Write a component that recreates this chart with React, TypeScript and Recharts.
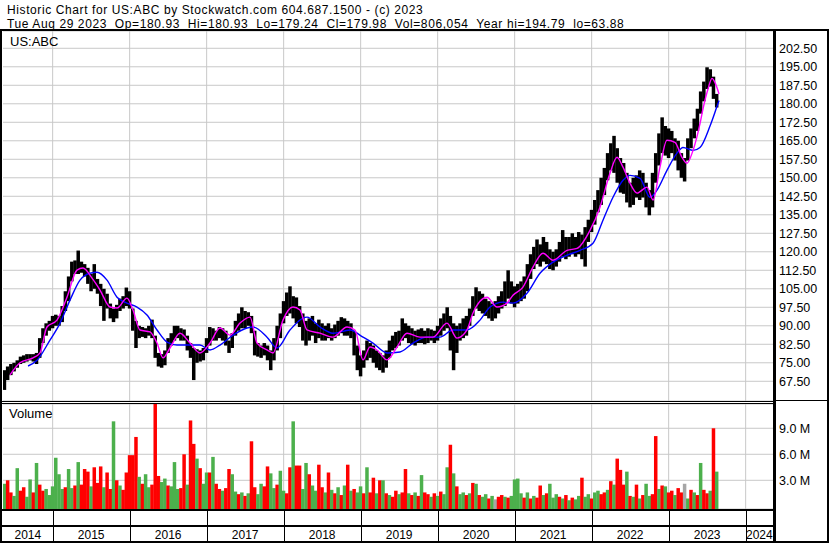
import React from "react";
import {
  ComposedChart,
  Bar,
  Line,
  XAxis,
  YAxis,
  CartesianGrid
} from "recharts";

const FONT = "'Liberation Sans', Arial, sans-serif";

// time axis in decimal years
const X_START = 2014.355;
const X_END = 2024.355;
const BIN_START = 2014.375;
const BIN_STEP = 1 / 24; // half-month bins

const YEAR_LINES = [2015, 2016, 2017, 2018, 2019, 2020, 2021, 2022, 2023, 2024];
const PRICE_TICKS = [67.5, 75, 82.5, 90, 97.5, 105, 112.5, 120, 127.5, 135, 142.5, 150, 157.5, 165, 172.5, 180, 187.5, 195, 202.5];
const VOLUME_TICKS = [3, 6, 9];

// half-month price ranges
const PRICE_LOW = [
  64, 68, 70, 71.5, 73, 74.5, 75, 75.5, 76, 75.5,
  74.5, 77, 83, 86, 88, 89, 90, 90, 91.5, 96,
  100, 108, 111, 111, 111.5, 110, 107, 104, 105, 103,
  98, 92, 97, 93, 91.5, 93, 96, 97, 98, 97,
  88, 81, 85, 85.5, 85, 86, 85, 77, 73.5, 73,
  74, 79, 82, 84, 85, 84, 84, 80, 77, 68,
  75, 75.5, 76, 79, 82, 84, 84, 85, 84, 82,
  79, 81, 86, 88, 89, 89, 90, 87, 78, 77.5,
  77, 78, 76, 72, 76, 80, 85, 91, 94, 95,
  93, 91, 89.5, 84, 82, 84, 86, 83, 85, 84,
  84, 85, 84, 85, 86, 87, 86, 86, 85, 78,
  72, 69.5, 73, 76, 77, 75, 73, 72, 71, 73,
  77, 80, 81, 82, 84, 85, 83, 82.5, 82, 83,
  83, 82.5, 83, 84, 83, 84, 86, 88, 89, 80,
  72, 79, 84, 85, 86, 90, 94, 97, 96, 95,
  94, 93, 92, 93, 95, 97, 98, 101, 99, 97.5,
  99, 100, 101, 104, 109, 113, 115, 114, 116, 115,
  113, 112.5, 114, 116, 118, 117, 118, 119, 118, 119,
  117, 114, 124, 128, 131, 136, 139, 143, 149, 153,
  152, 148, 144, 143.5, 140, 138, 139, 142, 141, 142,
  138, 134.8, 138, 148, 155, 160, 159, 158, 160, 157,
  153, 150, 148.5, 157, 162, 166, 169, 176, 181, 186, 187, 182, 178.5
];

const PRICE_HIGH = [
  72, 73.5, 74.5, 75, 76, 77.5, 78, 78.5, 78.5, 78.5,
  79, 85, 89, 91, 92, 94, 94.5, 94, 98, 104,
  110, 116, 116.5, 120.5, 116, 115, 113.5, 111, 115, 109,
  107, 105, 103, 99, 97, 98.5, 101, 102, 105.5, 104,
  97, 92, 90, 89.5, 89, 90, 92.5, 86, 79, 78.5,
  80, 85, 87, 90, 90, 89, 88.5, 86, 83, 81,
  80.5, 80, 81, 85, 89.5, 89, 88, 89.5, 89, 88,
  84, 87, 92, 95, 97.5, 96, 95.5, 94, 88, 83,
  82, 83, 82, 80, 85, 90, 95, 100, 103.5, 106,
  102, 101.5, 98, 95, 92, 93, 94, 91, 92.5, 91,
  90, 91, 89, 90.5, 92, 93.5, 93, 92, 91, 88,
  82, 78, 80, 84, 83, 82, 80, 79, 78, 80,
  84, 86, 87.5, 88, 93, 91, 90, 89, 88, 88.5,
  89, 88, 89, 88.5, 88, 90, 93, 95, 97.5, 94,
  91, 90, 91, 93, 94, 97, 102, 105.6, 104, 103,
  101, 100, 99, 100, 102, 104, 108, 112.5, 108, 106,
  107, 108, 110, 115, 119, 122, 125, 123, 126, 124,
  121, 120, 121, 124, 128.8, 126, 126, 127.5, 126, 128,
  127, 130, 133, 137, 141, 145, 150, 154, 160, 164,
  167, 162, 158, 156, 152, 148, 150, 151, 153, 152,
  148, 145, 152, 160, 168, 174.5, 171, 170, 169, 166,
  165, 160, 158, 166, 170, 174, 178, 185, 189, 194.8, 194, 191, 184
];

// volume in millions per half-month bin
const VOLUME = [
  2.6, 3.0, 1.6, 1.2, 4.4, 1.8, 2.2, 1.1, 3.1, 1.6,
  5.0, 2.5, 1.8, 2.0, 1.3, 2.3, 5.6, 3.7, 2.0, 2.2,
  4.3, 2.1, 2.4, 5.1, 2.5, 4.3, 4.0, 2.3, 4.5, 2.7,
  4.6, 2.2, 3.9, 2.0, 9.8, 3.0, 2.4, 1.9, 3.9, 5.9,
  5.9, 8.0, 3.4, 2.6, 3.7, 2.2, 2.5, 11.8, 3.5, 2.8,
  3.2, 2.4, 2.3, 5.1, 2.0, 2.1, 6.0, 2.5, 9.9, 7.2,
  5.5, 4.4, 2.6, 3.9, 3.9, 5.7, 2.6, 2.0, 1.8, 2.1,
  4.3, 3.7, 1.7, 1.4, 1.6, 1.2, 1.5, 7.5, 2.2, 1.4,
  2.6, 2.3, 4.6, 3.8, 2.1, 2.5, 4.1, 1.8, 1.5, 4.5,
  9.8, 4.7, 4.7, 2.0, 5.0, 3.7, 2.4, 1.8, 4.8, 2.2,
  1.6, 3.9, 1.9, 1.5, 2.2, 1.3, 2.4, 4.8, 1.8, 2.0,
  1.6, 2.3, 1.5, 4.5, 1.6, 3.3, 1.5, 3.0, 3.0, 1.5,
  1.3, 1.1, 1.8, 1.4, 1.6, 4.3, 1.5, 1.3, 1.6, 1.2,
  3.6, 1.6, 1.4, 1.1, 1.5, 1.2, 1.7, 1.4, 4.5, 7.1,
  3.8, 2.3, 1.4, 1.6, 1.3, 1.5, 2.7, 2.6, 1.3, 1.1,
  1.4, 0.9, 1.2, 0.8, 1.1, 1.3, 1.1, 1.0, 1.2, 3.1,
  3.2, 1.5, 1.0, 1.6, 0.9, 1.2, 1.0, 2.4, 1.3, 1.5,
  2.6, 1.0, 1.4, 1.1, 0.9, 1.3, 0.7, 1.0, 0.8, 1.2,
  3.3, 1.1, 1.4, 0.9, 1.6, 1.8, 1.4, 1.6, 1.9, 2.9,
  2.5, 5.5, 4.2, 2.5, 4.0, 1.2, 1.1, 2.5, 0.9, 1.3,
  2.6, 1.2, 1.4, 8.1, 2.0, 2.4, 2.3, 1.6, 1.8, 1.3,
  2.1, 1.6, 2.6, 0.9, 1.9, 1.6, 1.3, 5.0, 1.9, 1.5, 1.8, 9.0, 4.0
];

// g = up, r = down, n = unchanged
const VOLUME_SIDE = (
  "grrggrrggr" + "grrggggggr" + "ggrgrrrgrr" + "rgrrgrgrrr" + "rrgrggrrrg" +
  "grgggrrgrr" + "grggrgrrgr" + "rggrgrgrrg" + "grrggrggrr" + "grrggrggrr" +
  "grgrgrgrgr" + "ggrgrrgrgr" + "grrgrrgrgr" + "grrgrgrggr" + "grggrgrgrg" +
  "grgnrrgrgg" + "ggrgrgrrgr" + "gggrgrgrgg" + "rggrggrrgr" + "grrrgrgrgr" +
  "ggrrgrgrrg" + "rrngrgrgrrgrg"
).split("");

// moving averages: [year, price]
const MA_SHORT: [number, number][] = [
  [2014.446, 70.1], [2014.576, 75], [2014.745, 77], [2014.836, 79], [2014.926, 89.5],
  [2015.056, 92.3], [2015.186, 101.6], [2015.316, 112.6], [2015.394, 113.4], [2015.511, 109.3],
  [2015.615, 104.5], [2015.745, 97.6], [2015.836, 97.2], [2015.965, 101.2], [2016.043, 96.4],
  [2016.134, 88.3], [2016.264, 87.5], [2016.355, 83], [2016.433, 77], [2016.524, 81],
  [2016.654, 87], [2016.784, 83], [2016.913, 79], [2017.043, 83], [2017.173, 89.1],
  [2017.303, 86.2], [2017.433, 91.1], [2017.563, 93.5], [2017.654, 83], [2017.784, 80.2],
  [2017.862, 79], [2017.991, 92.3], [2018.121, 97.6], [2018.212, 96.4], [2018.303, 88.3],
  [2018.472, 87], [2018.641, 85.4], [2018.823, 89.5], [2018.926, 88.3], [2019.03, 76.2],
  [2019.121, 81.4], [2019.212, 80.2], [2019.342, 76.2], [2019.472, 81.4], [2019.602, 87],
  [2019.771, 85.4], [2019.939, 85.4], [2020.121, 91.1], [2020.251, 85], [2020.381, 88.3],
  [2020.459, 95.2], [2020.641, 101.6], [2020.771, 97.6], [2020.9, 99.2], [2020.978, 102.4],
  [2021.108, 105.7], [2021.238, 113.8], [2021.368, 119.4], [2021.498, 116.6], [2021.68, 120.6],
  [2021.81, 121.4], [2021.978, 128.7], [2022.108, 138.1], [2022.238, 151.8], [2022.329, 158.3],
  [2022.407, 154.3], [2022.498, 147.8], [2022.589, 143.8], [2022.719, 146.2], [2022.797, 141],
  [2022.887, 154.3], [2022.978, 165.2], [2023.082, 164.4], [2023.173, 158.3], [2023.238, 155.9],
  [2023.316, 161.1], [2023.407, 172], [2023.446, 178], [2023.511, 186], [2023.563, 190.3],
  [2023.602, 188.6], [2023.654, 184]
];

const MA_LONG: [number, number][] = [
  [2014.68, 73.7], [2014.797, 76], [2014.965, 84.2], [2015.095, 91], [2015.225, 100.4],
  [2015.355, 108.5], [2015.485, 111.3], [2015.576, 111.7], [2015.706, 108.5], [2015.836, 101.6],
  [2015.965, 99.2], [2016.095, 97.6], [2016.225, 94.4], [2016.355, 88.3], [2016.485, 83.4],
  [2016.615, 82.2], [2016.745, 82.2], [2016.913, 82.2], [2017.043, 80.2], [2017.173, 82.2],
  [2017.342, 86.2], [2017.524, 89.1], [2017.602, 89.5], [2017.784, 85.4], [2017.913, 81],
  [2018.082, 88.3], [2018.303, 93.5], [2018.472, 89.5], [2018.641, 87], [2018.862, 88.3],
  [2019.03, 85.4], [2019.16, 83], [2019.342, 79], [2019.511, 79.4], [2019.68, 83],
  [2019.862, 85.4], [2020.03, 85.4], [2020.199, 88.3], [2020.381, 88.3], [2020.55, 92.3],
  [2020.68, 97.6], [2020.849, 99.6], [2020.978, 99.2], [2021.16, 103.2], [2021.329, 111.3],
  [2021.498, 115.8], [2021.68, 118.6], [2021.849, 120.6], [2022.017, 123.5], [2022.147, 132.8],
  [2022.277, 142.1], [2022.407, 149], [2022.498, 151], [2022.628, 149.8], [2022.758, 142.1],
  [2022.849, 145], [2022.978, 153], [2023.108, 160], [2023.186, 162.3], [2023.316, 161.1],
  [2023.407, 162.3], [2023.537, 171], [2023.628, 179], [2023.654, 181.3]
];

const PRICE_DOMAIN: [number, number] = [59.51, 209.51];
const VOLUME_DOMAIN: [number, number] = [-0.31, 11.8];

const SIDE_COLOR: Record<string, string> = { g: "#4cb04c", r: "#ff0000", n: "#a6a6a6" };
const BAR_W = 3.5;

const priceRows = PRICE_LOW.map((low, i) => ({
  t: BIN_START + i * BIN_STEP,
  low,
  high: PRICE_HIGH[i]
}));
const volumeRows = VOLUME.map((v, i) => ({
  t: BIN_START + i * BIN_STEP,
  v,
  side: VOLUME_SIDE[i]
}));
const shortRows = MA_SHORT.map(([t, v]) => ({ t, v }));
const longRows = MA_LONG.map(([t, v]) => ({ t, v }));

// year band: dividers at year starts, labels centred in each year slot
const yearTicks = [
  (X_START + 2015) / 2,
  ...YEAR_LINES.flatMap((y) => (y < 2024 ? [y, y + 0.5] : [y])),
  (2024 + X_END) / 2
];

const yearGrid = ({ offset }: any) =>
  YEAR_LINES.map((y) => offset.left + ((y - X_START) / (X_END - X_START)) * offset.width);

const YearTick = (props: any) => {
  const { x, y, payload } = props;
  const v = payload.value;
  if (Number.isInteger(v)) {
    const px = Math.round(x) + 0.5;
    return <line x1={px} x2={px} y1={y} y2={y + 32} stroke="#000" strokeWidth={1} />;
  }
  return (
    <text x={x} y={y + 30} textAnchor="middle" fontSize={12} fontFamily={FONT} fill="#000">
      {Math.floor(v)}
    </text>
  );
};

// bars keep a fixed width around their centre so neighbours touch
const PriceBar = (p: any) => {
  const top = Math.min(p.y, p.y + p.height);
  const h = Math.max(Math.abs(p.height), 1);
  return <rect x={p.x + p.width / 2 - BAR_W / 2} y={top} width={BAR_W} height={h} fill="#000" />;
};

const VolumeBar = (p: any) => {
  const top = Math.min(p.y, p.y + p.height);
  const h = Math.abs(p.height);
  return (
    <rect
      x={p.x + p.width / 2 - BAR_W / 2}
      y={top}
      width={BAR_W}
      height={h}
      fill={SIDE_COLOR[p.payload.side]}
    />
  );
};

const axisTick = { fill: "#000", fontSize: 12.5, fontFamily: FONT };
const SP = "\u00a0\u00a0";

const App: React.FC = () => {
  return (
    <div
      style={{
        position: "absolute",
        left: 0,
        top: 0,
        width: 830,
        height: 543,
        background: "#fff",
        overflow: "hidden"
      }}
    >
      <div style={{ position: "absolute", left: 3, top: 31 }}>
        <ComposedChart width={824} height={370} data={priceRows} margin={{ top: 0, right: 0, bottom: 0, left: 0 }}>
          <CartesianGrid stroke="#c8c8c8" verticalCoordinatesGenerator={yearGrid} />
          <XAxis type="number" dataKey="t" domain={[X_START, X_END]} allowDataOverflow hide />
          <XAxis xAxisId="ma" type="number" dataKey="t" domain={[X_START, X_END]} allowDataOverflow hide />
          <YAxis
            orientation="right"
            type="number"
            domain={PRICE_DOMAIN}
            ticks={PRICE_TICKS}
            interval={0}
            allowDataOverflow
            width={54}
            axisLine={false}
            tickLine={false}
            tickSize={4}
            tickMargin={2}
            tick={axisTick}
            tickFormatter={(v: number) => v.toFixed(2)}
          />
          <Bar dataKey={(d: any) => [d.low, d.high]} fill="#000" barSize={3} shape={PriceBar} isAnimationActive={false} />
          <Line xAxisId="ma" data={longRows} dataKey="v" type="monotone" stroke="#0000ff" strokeWidth={1.4} dot={false} isAnimationActive={false} />
          <Line xAxisId="ma" data={shortRows} dataKey="v" type="monotone" stroke="#ff00ff" strokeWidth={1.4} dot={false} isAnimationActive={false} />
        </ComposedChart>
      </div>

      <div style={{ position: "absolute", left: 3, top: 404 }}>
        <ComposedChart width={824} height={137} data={volumeRows} margin={{ top: 0, right: 0, bottom: 0, left: 0 }}>
          <CartesianGrid stroke="#c8c8c8" verticalCoordinatesGenerator={yearGrid} />
          <XAxis
            type="number"
            dataKey="t"
            domain={[X_START, X_END]}
            allowDataOverflow
            ticks={yearTicks}
            interval={0}
            height={32}
            axisLine={false}
            tickLine={false}
            tickSize={0}
            tickMargin={0}
            tick={<YearTick />}
          />
          <YAxis
            orientation="right"
            type="number"
            domain={VOLUME_DOMAIN}
            ticks={VOLUME_TICKS}
            interval={0}
            allowDataOverflow
            width={54}
            axisLine={false}
            tickLine={false}
            tickSize={4}
            tickMargin={2}
            tick={axisTick}
            tickFormatter={(v: number) => v.toFixed(1) + " M"}
          />
          <Bar dataKey={(d: any) => [VOLUME_DOMAIN[0], d.v]} barSize={3} shape={VolumeBar} isAnimationActive={false} />
        </ComposedChart>
      </div>

      <svg
        width={830}
        height={543}
        style={{ position: "absolute", left: 0, top: 0, pointerEvents: "none" }}
      >
        <g fill="#000">
          <rect x={0} y={29} width={829} height={2} />
          <rect x={0} y={29} width={2} height={514} />
          <rect x={827} y={29} width={2} height={514} />
          <rect x={0} y={541} width={829} height={2} />
          <rect x={773} y={31} width={3} height={510} />
          <rect x={0} y={401} width={773} height={1} />
          <rect x={0} y={403} width={773} height={1} />
          <rect x={776} y={400} width={51} height={1} />
          <rect x={0} y={509} width={773} height={2} />
          <rect x={0} y={525} width={773} height={2} />
        </g>
        <g fontFamily={FONT} fill="#000" fontSize={12} letterSpacing={0.6}>
          <text x={7} y={14}>
            Historic Chart for US:ABC by Stockwatch.com 604.687.1500 - (c) 2023
          </text>
          <text x={7} y={27.5}>
            {["Tue Aug 29 2023", "Op=180.93", "Hi=180.93", "Lo=179.24", "Cl=179.98", "Vol=806,054", "Year hi=194.79", "lo=63.88"].join(SP)}
          </text>
        </g>
        <g fontFamily={FONT} fill="#000" fontSize={13}>
          <text x={10} y={46}>
            US:ABC
          </text>
          <text x={9} y={417.5}>
            Volume
          </text>
        </g>
      </svg>
    </div>
  );
};

export default App;
